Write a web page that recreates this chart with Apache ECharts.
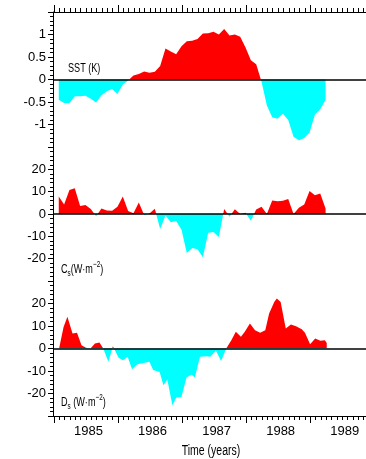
<!DOCTYPE html>
<html><head><meta charset="utf-8">
<script src="https://cdn.jsdelivr.net/npm/echarts@6/dist/echarts.min.js"></script>
<style>html,body{margin:0;padding:0;background:#fff}#c{width:366px;height:459px}</style>
</head><body><div id="c"></div>
<script>
// ---- data ----
const yearTicks = [1985, 1986, 1987, 1988, 1989];
const yearLabelPos = [1985.54, 1986.54, 1987.54, 1988.54, 1989.54];

// monthly samples (Feb 1985 .. Apr 1989)
const sstValues = [-0.45,-0.52,-0.53,-0.37,-0.37,-0.36,-0.43,-0.51,-0.35,-0.26,-0.21,-0.32,-0.11,-0.02,0.09,0.12,0.18,0.15,0.17,0.30,0.69,0.62,0.56,0.74,0.85,0.86,0.90,1.02,1.03,1.06,1.00,1.12,0.98,1.00,0.95,0.71,0.43,0.34,-0.05,-0.58,-0.84,-0.87,-0.76,-0.90,-1.27,-1.35,-1.30,-1.18,-0.78,-0.66,-0.45];
const csValues = [7.8,4.3,10.8,11.5,3.6,4.0,2.2,-1.0,2.5,1.6,1.5,3.3,7.8,1.3,0.3,5.2,-0.4,0.2,2.4,-6.7,-0.7,-3.7,-3.1,-7.0,-17.5,-15.2,-15.8,-19.4,-8.4,-8.1,-10.3,2.2,-1.2,2.1,0.0,0.6,-3.0,2.0,3.3,0.0,6.0,5.7,5.9,6.7,0.0,2.8,4.3,10.3,8.4,9.2,2.5];
const monthStart = 1985.075;

// D_s sampled at its own vertices
const dsTime = [1985.08,1985.15,1985.21,1985.29,1985.36,1985.43,1985.50,1985.57,1985.64,1985.71,1985.77,1985.85,1985.92,1986.01,1986.08,1986.15,1986.22,1986.30,1986.40,1986.49,1986.55,1986.65,1986.71,1986.77,1986.85,1986.91,1986.99,1987.07,1987.15,1987.20,1987.28,1987.38,1987.44,1987.53,1987.61,1987.69,1987.77,1987.84,1987.92,1987.98,1988.06,1988.14,1988.22,1988.30,1988.36,1988.44,1988.48,1988.54,1988.62,1988.70,1988.78,1988.87,1988.92,1989.00,1989.08,1989.16,1989.23,1989.26];
const dsValues = [0,9.6,14.1,6.7,7.0,1.5,0.3,0,2.2,2.7,0,-5.9,1.0,-4.1,-5.2,-3.7,-9.2,-7.0,-6.4,-5.9,-9.6,-10.4,-16.3,-13.8,-25.2,-21.8,-21.5,-12.9,-11.6,-12.9,-3.7,-3.4,-3.7,-1.0,-5.5,0,3.7,7.4,5.2,7.4,11.1,8.1,7.0,8.1,15.6,20.7,22.2,20.7,8.9,10.7,9.9,8.6,7.0,1.9,4.4,3.4,3.7,2.5];

// ---- build ----
const X_MIN = 1984.985, X_MAX = 1989.873;
const monthTimes = sstValues.map((_, k) => +(monthStart + k / 12).toFixed(4));
const monthTicks = [];
for (let m = 0; m <= 58; m++) monthTicks.push(+(1985 + m / 12).toFixed(4));
const sstData = sstValues.map((v, i) => [monthTimes[i], v]);
const csData = csValues.map((v, i) => [monthTimes[i], v]);
const dsData = dsValues.map((v, i) => [dsTime[i], v]);

const FONT = "'Liberation Sans',Arial,sans-serif";
const BLACK = '#000';

function xMajor(grid, pos, labels) {
  return {
    gridIndex: grid, type: 'value', position: pos, min: X_MIN, max: X_MAX,
    axisLine: { show: true, onZero: false, lineStyle: { color: BLACK, width: 1 } },
    axisTick: { show: true, customValues: yearTicks, length: 7, lineStyle: { color: BLACK, width: 1 } },
    axisLabel: labels ? {
      show: true, customValues: yearLabelPos, formatter: v => String(Math.floor(v)),
      color: BLACK, fontSize: 13, fontFamily: FONT, margin: 9
    } : { show: false },
    splitLine: { show: false }
  };
}
function xMinor(grid, pos) {
  return {
    gridIndex: grid, type: 'value', position: pos, min: X_MIN, max: X_MAX,
    axisLine: { show: false, onZero: false },
    axisTick: { show: true, customValues: monthTicks, length: 4, lineStyle: { color: BLACK, width: 1 } },
    axisLabel: { show: false }, splitLine: { show: false }
  };
}
function yAx(grid, lim, step) {
  return {
    gridIndex: grid, type: 'value', min: -lim, max: lim, interval: step,
    axisLine: { show: true, onZero: false, lineStyle: { color: BLACK, width: 1 } },
    axisTick: { show: true, length: 5, lineStyle: { color: BLACK } },
    minorTick: { show: true, splitNumber: 5, length: 3, lineStyle: { color: BLACK } },
    axisLabel: { showMinLabel: false, showMaxLabel: false, color: BLACK, fontSize: 13, fontFamily: FONT, margin: 7 },
    splitLine: { show: false }, minorSplitLine: { show: false }
  };
}
const zeroLine = {
  silent: true, symbol: ['none', 'none'], label: { show: false },
  lineStyle: { color: BLACK, width: 1.6, type: 'solid' }, data: [{ yAxis: 0 }], animation: false
};
function areaSeries(xi, yi, data) {
  return {
    type: 'line', xAxisIndex: xi, yAxisIndex: yi, data: data, showSymbol: false,
    lineStyle: { width: 0 }, areaStyle: { opacity: 1 }, markLine: zeroLine, z: 2
  };
}
const main = { fontSize: 13, fontFamily: FONT, lineHeight: 18, verticalAlign: 'middle', fill: BLACK };
const sub = { fontSize: 9, fontFamily: FONT, lineHeight: 9, verticalAlign: 'bottom', fill: BLACK };
const sup = { fontSize: 9, fontFamily: FONT, lineHeight: 9, verticalAlign: 'top', fill: BLACK };

const chart = echarts.init(document.getElementById('c'), null, { renderer: 'canvas' });
chart.setOption({
  animation: false,
  backgroundColor: '#fff',
  grid: [
    { left: 53, right: 0, top: 12, height: 135 },
    { left: 53, right: 0, top: 147, height: 134 },
    { left: 53, right: 0, top: 281, height: 135 }
  ],
  xAxis: [xMajor(0, 'top', false), xMinor(0, 'top'), Object.assign(xMinor(1, 'bottom'), { show: false }), xMajor(2, 'bottom', true), xMinor(2, 'bottom')],
  yAxis: [yAx(0, 1.5, 0.5), yAx(1, 30, 10), yAx(2, 30, 10)],
  visualMap: {
    type: 'piecewise', show: false, dimension: 1, seriesIndex: [0, 1, 2],
    pieces: [{ gt: 0, lte: 1000, color: '#ff0000' }, { gte: -1000, lte: 0, color: '#00ffff' }]
  },
  series: [areaSeries(0, 0, sstData), areaSeries(2, 1, csData), areaSeries(3, 2, dsData)],
  graphic: [
    { type: 'text', x: 68, y: 68, scaleX: 0.7, style: { text: 'SST (K)', font: '13px ' + FONT, fill: BLACK, verticalAlign: 'middle' } },
    { type: 'text', x: 61, y: 269, scaleX: 0.7, style: { text: '{m|C}{s|s}{m|(W·m}{p|−2}{m|)}', rich: { m: main, s: sub, p: sup }, verticalAlign: 'middle' } },
    { type: 'text', x: 61, y: 402, scaleX: 0.7, style: { text: '{m|D}{s|s}{m| (W·m}{p|−2}{m|)}', rich: { m: main, s: sub, p: sup }, verticalAlign: 'middle' } },
    { type: 'text', x: 211, y: 451, scaleX: 0.75, style: { text: 'Time (years)', font: '14px ' + FONT, fill: BLACK, align: 'center', verticalAlign: 'middle' } }
  ]
});
</script></body></html>
